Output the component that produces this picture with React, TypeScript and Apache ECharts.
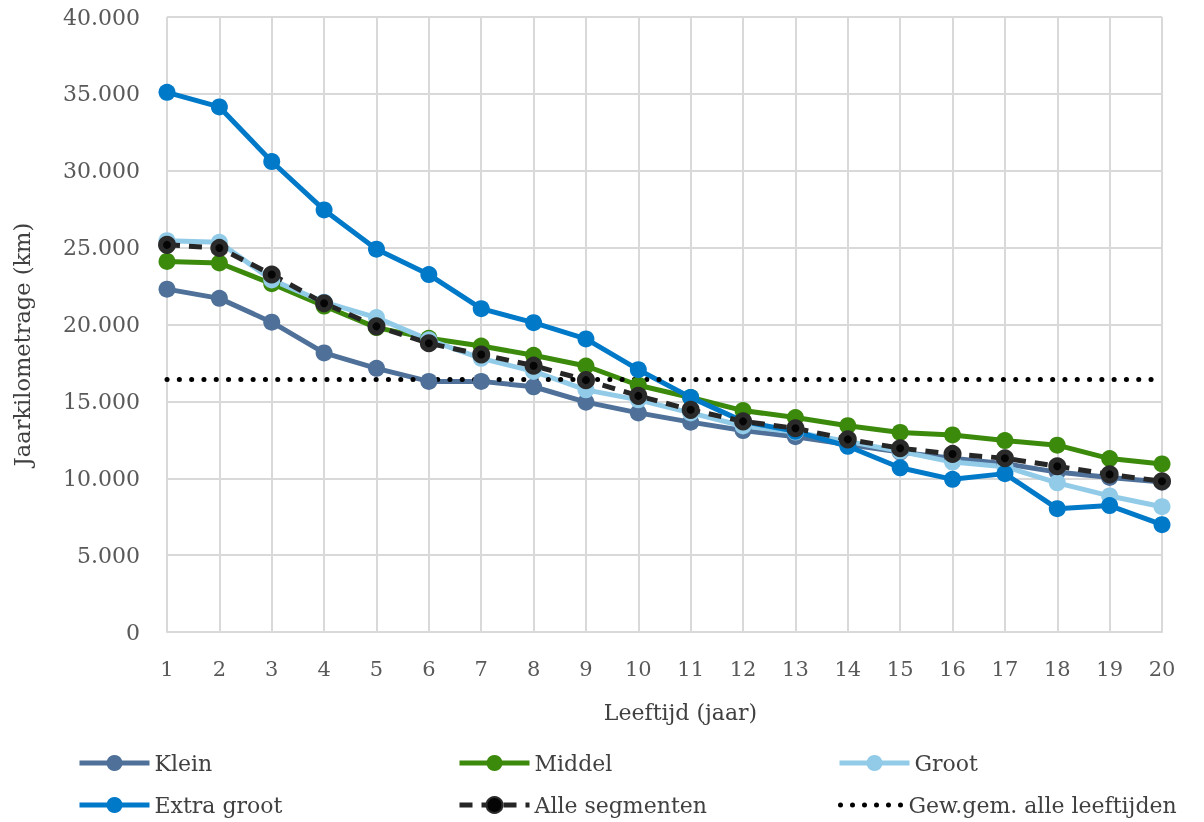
import React, { useEffect, useRef } from "react";
import * as echarts from "echarts";

const ages = ["1","2","3","4","5","6","7","8","9","10","11","12","13","14","15","16","17","18","19","20"];
const klein = [22300,21700,20150,18150,17150,16300,16300,15950,14950,14250,13650,13100,12700,12200,11700,11300,10950,10400,10050,9750];
const middel = [24100,24000,22650,21200,19800,19100,18600,18000,17300,16050,15250,14400,13950,13420,12980,12820,12450,12150,11280,10930];
const groot = [25450,25350,22900,21450,20450,19000,17800,16950,15750,15100,14250,13400,13000,12400,11750,11050,10750,9700,8850,8150];
const extraGroot = [35100,34150,30600,27450,24900,23250,21030,20120,19060,17060,15260,13700,13050,12080,10680,9930,10300,8020,8220,6980];
const alleSegmenten = [25180,24980,23250,21380,19880,18780,18050,17320,16380,15360,14450,13700,13250,12530,11950,11580,11300,10780,10250,9800];
const gemiddeld = [16420,16420,16420,16420,16420,16420,16420,16420,16420,16420,16420,16420,16420,16420,16420,16420,16420,16420,16420,16420];

const FONT = "DejaVu Serif";

export default function App() {
  const ref = useRef<HTMLDivElement>(null);
  useEffect(() => {
    if (!ref.current) return;
    const chart = echarts.init(ref.current, null, { renderer: "svg" });
    const textStyle = { fontFamily: FONT, fontSize: 22, color: "#404040" };
    const lineSeries = (name: string, data: number[], color: string, extra: any = {}) => ({
      name,
      type: "line",
      data,
      symbol: "circle",
      symbolSize: 17,
      showSymbol: true,
      lineStyle: { color, width: 5 },
      itemStyle: { color },
      ...extra,
    });
    const dotsIcon =
      "path://" +
      [0, 1, 2, 3, 4, 5]
        .map((i) => `M${i * 12 + 1},2.5a2.5,2.5 0 1,0 5,0a2.5,2.5 0 1,0 -5,0Z`)
        .join(" ");
    const leg = (name: string, left: number, top: number, extra: any = {}) => ({
      data: [name],
      left,
      top,
      itemWidth: 70,
      itemHeight: 20,
      textStyle,
      lineStyle: { width: 5 },
      ...extra,
    });
    chart.setOption({
      animation: false,
      textStyle: { fontFamily: FONT },
      grid: { left: 167, right: 42, top: 17, bottom: 190, containLabel: false },
      legend: [
        leg("Klein", 72, 747),
        leg("Middel", 452, 747),
        leg("Groot", 832, 747),
        leg("Extra groot", 72, 789),
        leg("Alle segmenten", 452, 789),
        { data: [{ name: "Gew.gem. alle leeftijden", icon: dotsIcon }], left: 833, top: 789, itemWidth: 66, itemHeight: 5, textStyle },
      ],
      xAxis: {
        type: "category",
        data: ages,
        boundaryGap: false,
        name: "Leeftijd (jaar)",
        nameLocation: "middle",
        nameGap: 69,
        nameMoveOverlap: false,
        nameTextStyle: { fontFamily: FONT, fontSize: 22, color: "#404040", padding: [0, 0, 0, 32] },
        axisTick: { show: false },
        axisLine: { lineStyle: { color: "#d9d9d9", width: 2 } },
        axisLabel: { fontFamily: FONT, fontSize: 21, color: "#595959", margin: 26 },
        splitLine: { show: true, lineStyle: { color: "#d9d9d9", width: 2 } },
      },
      yAxis: {
        type: "value",
        min: 0,
        max: 40000,
        interval: 5000,
        name: "Jaarkilometrage (km)",
        nameLocation: "middle",
        nameGap: 134,
        nameMoveOverlap: false,
        nameTextStyle: { fontFamily: FONT, fontSize: 22.5, color: "#404040", padding: [0, 40, 0, 0] },
        axisLine: { show: false },
        axisTick: { show: false },
        axisLabel: {
          fontFamily: FONT,
          fontSize: 22,
          color: "#595959",
          margin: 27,
          formatter: (v: number) => v.toString().replace(/\B(?=(\d{3})+(?!\d))/g, "."),
        },
        splitLine: { lineStyle: { color: "#d9d9d9", width: 2 } },
      },
      series: [
        lineSeries("Klein", klein, "#4f7199"),
        lineSeries("Middel", middel, "#3c8a0c"),
        lineSeries("Groot", groot, "#92cbe8"),
        lineSeries("Extra groot", extraGroot, "#0079c9"),
        lineSeries("Alle segmenten", alleSegmenten, "#262626", {
          lineStyle: { color: "#262626", width: 5, type: [13, 9] },
          itemStyle: { color: "#050505", borderColor: "#2a2a2a", borderWidth: 5 },
          symbolSize: 13,
        }),
        {
          name: "Gew.gem. alle leeftijden",
          type: "line",
          data: gemiddeld,
          symbol: "none",
          lineStyle: { color: "#000000", width: 5, type: [0.1, 12.2], cap: "round" },
          itemStyle: { color: "#000000" },
        },
      ],
    });
    return () => chart.dispose();
  }, []);
  return <div ref={ref} style={{ position: "fixed", left: 0, top: 0, width: 1204, height: 822 }} />;
}
